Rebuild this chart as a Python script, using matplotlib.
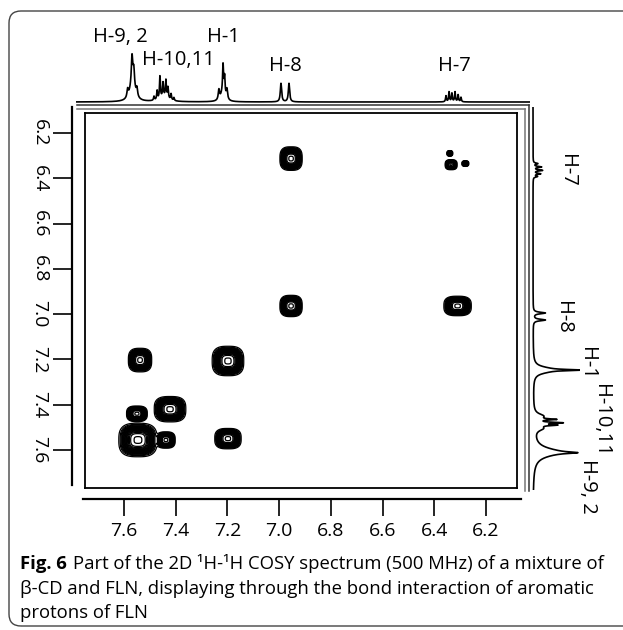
import numpy as np
import matplotlib
matplotlib.use('Agg')
import matplotlib.pyplot as plt
from matplotlib.lines import Line2D
from matplotlib.patches import FancyBboxPatch
from matplotlib.transforms import IdentityTransform

plt.rcParams['font.family'] = ['Open Sans', 'DejaVu Sans']

# COSY cross peaks: f2 shift (x), f1 shift (y), half sizes of the outer contour (ppm)
peak_f2 = [6.954, 6.954, 6.335, 6.280, 6.340, 6.310, 7.538, 7.198, 7.550, 7.422, 7.546, 7.438, 7.198]
peak_f1 = [6.313, 6.964, 6.340, 6.335, 6.290, 6.964, 7.203, 7.207, 7.440, 7.420, 7.556, 7.556, 7.550]
peak_wx = [0.043, 0.043, 0.023, 0.013, 0.011, 0.053, 0.045, 0.061, 0.040, 0.061, 0.074, 0.036, 0.051]
peak_wy = [0.052, 0.047, 0.022, 0.012, 0.012, 0.043, 0.052, 0.065, 0.034, 0.056, 0.074, 0.036, 0.045]

# 1D trace on top (f2): line positions (ppm), heights, half widths
top_ppm = [7.586, 7.569, 7.562, 7.550, 7.567,
           7.484, 7.472, 7.461, 7.449, 7.438, 7.430, 7.418, 7.407, 7.445,
           7.233, 7.217, 7.211, 7.202, 7.217,
           6.993, 6.962,
           6.355, 6.343, 6.332, 6.320, 6.308, 6.297]
top_int = [0.16, 0.50, 0.30, 0.16, 0.42,
           0.08, 0.18, 0.45, 0.28, 0.34, 0.22, 0.12, 0.06, 0.10,
           0.20, 0.52, 0.34, 0.20, 0.22,
           0.37, 0.37,
           0.12, 0.20, 0.17, 0.20, 0.14, 0.09]
top_hw = [0.003, 0.003, 0.003, 0.003, 0.011,
          0.002, 0.002, 0.002, 0.002, 0.002, 0.002, 0.002, 0.002, 0.020,
          0.003, 0.002, 0.002, 0.003, 0.009,
          0.003, 0.003,
          0.002, 0.002, 0.002, 0.002, 0.002, 0.002]

# 1D trace on the right (f1)
side_ppm = [6.335, 6.350, 6.365, 6.380, 6.392,
            6.995, 7.026,
            7.240, 7.247, 7.254,
            7.450, 7.465, 7.480, 7.490, 7.505,
            7.610, 7.612]
side_int = [0.10, 0.18, 0.20, 0.16, 0.09,
            0.27, 0.27,
            0.22, 0.75, 0.22,
            0.20, 0.40, 0.55, 0.40, 0.18,
            0.55, 0.45]
side_hw = [0.003, 0.003, 0.003, 0.003, 0.003,
           0.004, 0.004,
           0.012, 0.003, 0.012,
           0.012, 0.003, 0.003, 0.003, 0.012,
           0.022, 0.004]

top_labels = ['H-9, 2', 'H-10,11', 'H-1', 'H-8', 'H-7']
top_label_ppm = [7.615, 7.391, 7.217, 6.977, 6.324]
top_label_h = [1.30, 0.84, 1.30, 0.72, 0.72]
side_labels = ['H-7', 'H-8', 'H-1', 'H-10,11', 'H-9, 2']
side_label_ppm = [6.363, 7.013, 7.220, 7.470, 7.760]
side_label_h = [0.76, 0.67, 1.20, 1.52, 1.22]

ticks = [7.6, 7.4, 7.2, 7.0, 6.8, 6.6, 6.4, 6.2]
tick_labels = ['7.6', '7.4', '7.2', '7.0', '6.8', '6.6', '6.4', '6.2']

W, H = 623, 630


def box(x0, y0, x1, y1):
    return [x0 / W, 1 - y1 / H, (x1 - x0) / W, (y1 - y0) / H]


def xppm(px):
    return 7.6 - (px - 124) / 258.6


def yppm(py):
    return 6.2 + (py - 133) / 226.4


def trace(axis, pos, height, hw):
    s = np.zeros_like(axis)
    for p, h, w in zip(pos, height, hw):
        s += h / (1 + ((axis - p) / w) ** 2)
    return s


fig = plt.figure(figsize=(W / 100, H / 100), dpi=100)

# rounded frame of the figure
fig.add_artist(FancyBboxPatch((9, 4), 700, 615, boxstyle='round,pad=0,rounding_size=12',
                              transform=IdentityTransform(), fill=False, ec='#444444', lw=1.0))

# 2D map
ax = fig.add_axes(box(85, 113, 517, 488))
gx = np.linspace(xppm(85), xppm(517), 700)
gy = np.linspace(yppm(113), yppm(488), 700)
X, Y = np.meshgrid(gx, gy)
Z = np.zeros_like(X)
for px, py, wx, wy in zip(peak_f2, peak_f1, peak_wx, peak_wy):
    a, b = wx / 1.316, wy / 1.316
    Z += np.exp(-(np.abs((X - px) / a) ** 3 + np.abs((Y - py) / b) ** 3) ** (4 / 3))
ax.contour(X, Y, Z, levels=np.linspace(0.05, 0.995, 18), colors='black', linewidths=0.9)
ax.set_xlim(xppm(85), xppm(517))
ax.set_ylim(yppm(488), yppm(113))
ax.set_xticks([])
ax.set_yticks([])
for sp in ax.spines.values():
    sp.set_linewidth(1.3)

# bottom scale
ax_x = fig.add_axes(box(83, 498, 521, 499))
ax_x.set_xlim(xppm(83), xppm(521))
for k in ['top', 'left', 'right']:
    ax_x.spines[k].set_visible(False)
ax_x.spines['bottom'].set_linewidth(1.6)
ax_x.set_yticks([])
ax_x.set_xticks(ticks)
ax_x.set_xticklabels(tick_labels)
ax_x.tick_params(axis='x', direction='out', length=12.5, width=1.2, pad=4, labelsize=14)
ax_x.patch.set_visible(False)

# left scale
ax_y = fig.add_axes(box(72, 107, 73, 485))
ax_y.set_ylim(yppm(485), yppm(107))
for k in ['top', 'bottom', 'right']:
    ax_y.spines[k].set_visible(False)
ax_y.spines['left'].set_linewidth(1.6)
ax_y.set_xticks([])
ax_y.set_yticks(ticks)
ax_y.set_yticklabels(tick_labels)
ax_y.tick_params(axis='y', direction='out', length=14, width=1.2, pad=3, labelsize=14)
plt.setp(ax_y.get_yticklabels(), rotation=270, va='center')
ax_y.patch.set_visible(False)

# double frame lines between the map and the traces
for (x0, y0, x1, y1), c in [((77, 105, 529, 105), '#333333'), ((529, 105, 529, 491), '#333333'),
                            ((77, 108.5, 525, 108.5), '#777777'), ((525, 108.5, 525, 491), '#777777')]:
    fig.add_artist(Line2D([x0 / W, x1 / W], [1 - y0 / H, 1 - y1 / H], transform=fig.transFigure,
                          color=c, lw=1.1))

# top trace
ax_t = fig.add_axes(box(76, 50, 530, 104))
tx = np.linspace(xppm(76), xppm(530), 3000)
ax_t.plot(tx, trace(tx, top_ppm, top_int, top_hw), color='black', lw=1.2)
ax_t.set_xlim(xppm(76), xppm(530))
ax_t.set_ylim(-0.04, 1.04)
ax_t.axis('off')
for lab, p, h in zip(top_labels, top_label_ppm, top_label_h):
    ax_t.text(p, h, lab, ha='center', va='center', fontsize=14.5)

# right trace
ax_r = fig.add_axes(box(531, 107, 580, 490))
ry = np.linspace(yppm(107), yppm(490), 3000)
ax_r.plot(trace(ry, side_ppm, side_int, side_hw), ry, color='black', lw=1.2)
ax_r.set_ylim(yppm(490), yppm(107))
ax_r.set_xlim(-2 / 45, 47 / 45)
ax_r.axis('off')
for lab, p, h in zip(side_labels, side_label_ppm, side_label_h):
    ax_r.text(h, p, lab, ha='center', va='center', fontsize=14.5, rotation=270, clip_on=False)

# caption
cap = 13.3
t1 = fig.text(20 / W, 1 - 569 / H, 'Fig. 6', fontsize=cap, weight='bold', va='baseline')
fig.canvas.draw()
bb = t1.get_window_extent()
fig.text(bb.x1 / W + 6 / W, 1 - 569 / H,
         'Part of the 2D \u00b9H-\u00b9H COSY spectrum (500 MHz) of a mixture of',
         fontsize=cap, va='baseline')
fig.text(20 / W, 1 - 594 / H,
         '\u03b2-CD and FLN, displaying through the bond interaction of aromatic',
         fontsize=cap, va='baseline')
fig.text(20 / W, 1 - 618 / H, 'protons of FLN', fontsize=cap, va='baseline')

fig.savefig('out.png', dpi=100)
